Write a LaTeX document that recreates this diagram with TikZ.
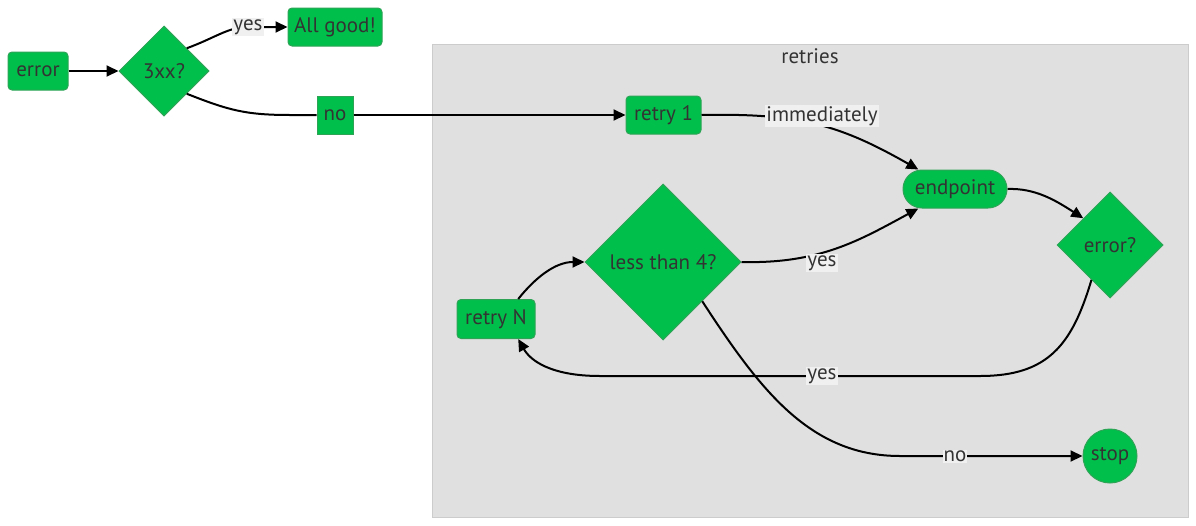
\documentclass[tikz,border=0pt]{standalone}
\usepackage{fontspec}
\setmainfont{PT Sans}
\usetikzlibrary{shapes.geometric,arrows.meta}

\definecolor{nodegreen}{HTML}{00C04B}
\definecolor{nodeline}{HTML}{2EA356}
\definecolor{txt}{HTML}{333333}
\definecolor{clusterfill}{HTML}{E0E0E0}
\definecolor{clusterline}{HTML}{CCCCCC}
\definecolor{labelfill}{HTML}{F0F0F0}

\tikzset{
	txtfont/.style={font=\fontsize{21}{25}\selectfont, text=txt},
	box/.style={txtfont, draw=nodeline, fill=nodegreen, line width=1pt, rounded corners=4pt, minimum height=38pt, inner sep=0pt},
	sharpbox/.style={box, rounded corners=0pt},
	stadium/.style={box, rounded corners=19pt},
	decision/.style={txtfont, diamond, draw=nodeline, fill=nodegreen, line width=1pt, aspect=1, inner sep=0pt},
	endcircle/.style={txtfont, circle, draw=nodeline, fill=nodegreen, line width=1pt, inner sep=0pt},
	lbl/.style={txtfont, fill=labelfill, inner sep=1pt},
	arr/.style={line width=2pt, -{Triangle[length=12pt,width=11pt]}},
	plain/.style={line width=2pt}
}

\begin{document}
\begin{tikzpicture}[x=1pt,y=-1pt]

	\useasboundingbox (0,0) rectangle (1196,525);

	\coordinate (Lyes1) at (248,27);
	\coordinate (Limm) at (822,116);
	\coordinate (Lyes2) at (822,263);
	\coordinate (Lyes3) at (822,376);
	\coordinate (Lno) at (955,456);

	\begin{scope}
		\draw[fill=clusterfill, draw=clusterline, line width=1pt] (432,44) rectangle (1188,517);
		\node[txtfont] (retries) at (810,56) {retries};
	\end{scope}

	\node[box, minimum width=60pt] (E) at (38,71) {error};
	\node[decision, minimum size=90pt] (D3) at (164,71) {3xx?};
	\node[box, minimum width=94pt] (G) at (335,27) {All good!};
	\node[sharpbox, minimum width=36pt] (N) at (335,115) {no};

	\node[box, minimum width=75pt] (R1) at (663.5,115) {retry 1};
	\node[stadium, minimum width=104pt] (EP) at (955,189) {endpoint};
	\node[decision, minimum size=106pt] (DE) at (1110,245) {error?};
	\node[decision, minimum size=156pt] (D4) at (663,262) {less than 4?};
	\node[box, minimum width=78pt, minimum height=39pt] (RN) at (496,319) {retry N};
	\node[endcircle, minimum size=54pt] (S) at (1110,456) {stop};

	\draw[arr] (E.east) -- (D3.west);
	\draw[arr] (D3.north east) .. controls (215,38) and (228,27) .. (Lyes1) -- (G.west);
	\draw[plain] (D3.south east) .. controls (228,110) and (245,115) .. (290,115) -- (N.west);
	\draw[arr] (N.east) -- (R1.west);

	\draw[arr] (R1.east) .. controls (800,113) and (840,125) .. (EP.152);
	\draw[arr] (EP.east) .. controls (1035,188) and (1055,200) .. (DE.north west);
	\draw[arr] (D4.east) .. controls (820,264) and (860,240) .. (EP.208);
	\draw[arr] (RN.42) .. controls (535,278) and (555,262) .. (D4.west);
	\draw[arr] (D4.south east) .. controls (760,390) and (810,456) .. (900,456) -- (S.west);
	\draw[arr] (DE.242) .. controls (1072,345) and (1048,376) .. (980,376) -- (600,376) .. controls (550,376) and (530,360) .. (RN.318);

	\node[lbl] (yes1) at (Lyes1) {yes};
	\node[lbl] (imm) at (Limm) {immediately};
	\node[lbl] (yes2) at (Lyes2) {yes};
	\node[lbl] (yes3) at (Lyes3) {yes};
	\node[lbl] (no2) at (Lno) {no};

\end{tikzpicture}
\end{document}
